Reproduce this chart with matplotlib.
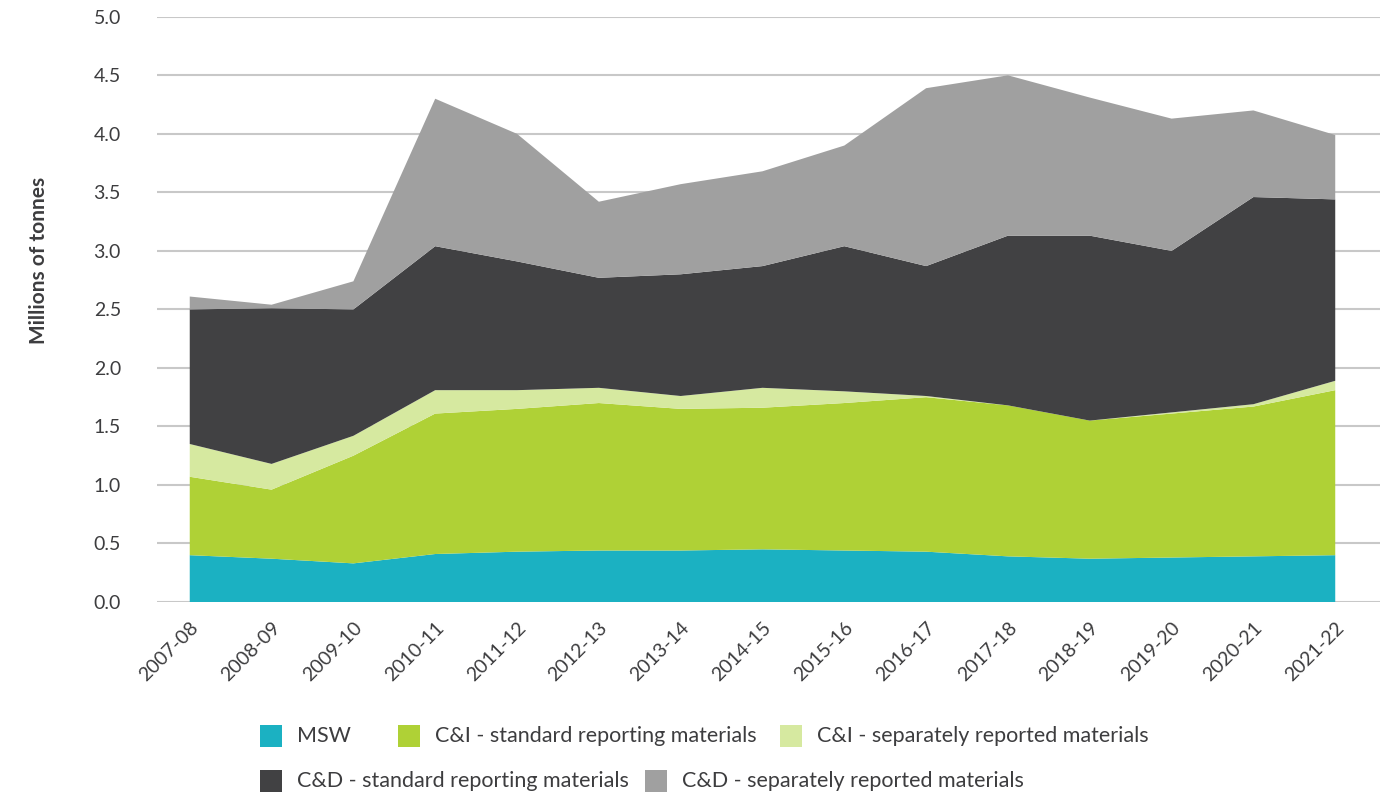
import matplotlib
matplotlib.use("Agg")
import matplotlib.pyplot as plt
from matplotlib.patches import Rectangle

# -----------------------------------------
# Data (millions of tonnes)
# -----------------------------------------
years = ["2007-08", "2008-09", "2009-10", "2010-11", "2011-12", "2012-13", "2013-14",
         "2014-15", "2015-16", "2016-17", "2017-18", "2018-19", "2019-20", "2020-21", "2021-22"]

msw = [0.40, 0.37, 0.33, 0.41, 0.43, 0.44, 0.44, 0.45, 0.44, 0.43, 0.39, 0.37, 0.38, 0.39, 0.40]
ci_std = [0.67, 0.59, 0.92, 1.20, 1.22, 1.26, 1.21, 1.21, 1.26, 1.32, 1.29, 1.18, 1.23, 1.28, 1.41]
ci_sep = [0.28, 0.22, 0.17, 0.20, 0.16, 0.13, 0.11, 0.17, 0.10, 0.01, 0.00, 0.00, 0.01, 0.02, 0.08]
cd_std = [1.15, 1.33, 1.08, 1.23, 1.10, 0.94, 1.04, 1.04, 1.24, 1.11, 1.45, 1.58, 1.38, 1.77, 1.55]
cd_sep = [0.11, 0.03, 0.24, 1.26, 1.09, 0.65, 0.77, 0.81, 0.86, 1.52, 1.37, 1.18, 1.13, 0.74, 0.55]

labels = ["MSW", "C&I - standard reporting materials", "C&I - separately reported materials",
          "C&D - standard reporting materials", "C&D - separately reported materials"]
colors = ["#1bb1c2", "#afd136", "#d6e9a0", "#414143", "#a0a0a0"]

textColor = "#3d3d3f"
plt.rcParams["font.family"] = ["Lato", "DejaVu Sans"]

fig = plt.figure(figsize=(13.97, 8.0), dpi=100)
ax = fig.add_axes([0.1124, 0.2475, 0.8756, 0.7315])

x = list(range(len(years)))
ax.stackplot(x, msw, ci_std, ci_sep, cd_std, cd_sep, colors=colors, linewidth=0, zorder=2)

# axes styling
ax.set_xlim(-0.4, len(years) - 1 + 0.55)
ax.set_ylim(0, 5.0)
ax.set_yticks([i * 0.5 for i in range(11)])
ax.set_yticklabels(["%.1f" % (i * 0.5) for i in range(11)])
ax.yaxis.grid(True, color="#c8c8c8", linewidth=1.5, zorder=1)
ax.set_axisbelow(True)
for s in ax.spines.values():
    s.set_visible(False)
ax.tick_params(axis="both", length=0, labelsize=14, labelcolor=textColor)
ax.tick_params(axis="y", pad=26)

ax.set_xticks(x)
ax.set_xticklabels(years, rotation=45, ha="right", rotation_mode="anchor")
ax.tick_params(axis="x", pad=12)

ax.set_ylabel("Millions of tonnes", fontsize=15, fontweight="bold", color=textColor)
ax.yaxis.set_label_coords(-0.088, 0.583)

# -----------------------------------------
# Legend drawn by hand (flow layout, two rows)
# -----------------------------------------
legendSpots = [(260, 736), (398, 736), (780, 736), (260, 781), (645, 781)]
sq = 22
W, H = 1397.0, 800.0
for (px, py), lab, col in zip(legendSpots, labels, colors):
    fig.patches.append(Rectangle((px / W, 1 - (py + sq / 2) / H), sq / W, sq / H,
                                 transform=fig.transFigure, facecolor=col,
                                 edgecolor="none"))
    fig.text((px + sq + 15) / W, 1 - py / H, lab, fontsize=15.5, color=textColor,
             ha="left", va="center")

fig.savefig("out.png", dpi=100)
